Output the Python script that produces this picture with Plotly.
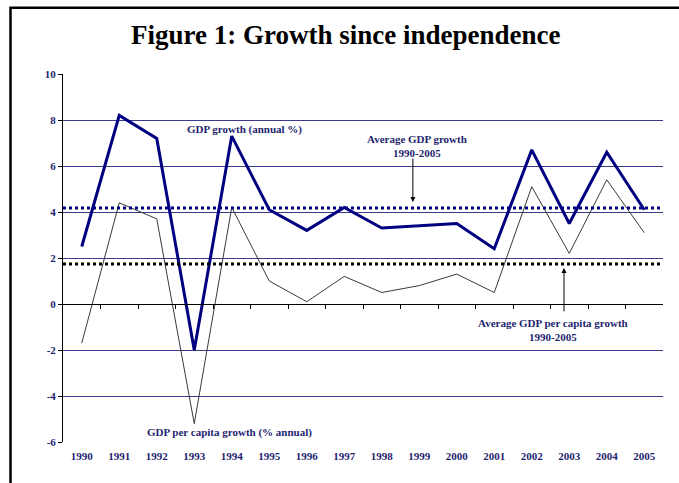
import plotly.graph_objects as go

years = list(range(1990, 2006))
gdp_growth = [2.5, 8.2, 7.2, -2.0, 7.3, 4.1, 3.2, 4.2, 3.3, 3.4, 3.5, 2.4, 6.7, 3.5, 6.6, 4.1]
gdp_pc_growth = [-1.7, 4.4, 3.7, -5.2, 4.2, 1.0, 0.1, 1.2, 0.5, 0.8, 1.3, 0.5, 5.1, 2.2, 5.4, 3.1]
avg_gdp_growth = 4.17
avg_gdp_pc_growth = 1.74
y_ticks = [-6, -4, -2, 0, 2, 4, 6, 8, 10]
y_tick_labels = ["-6", "-4", "-2", "0", "2", "4", "6", "8", "10"]

NAVY = "#000080"
TXT = "#1f1f70"
SERIF = "Liberation Serif"

x_lo = years[0] - 0.5
x_hi = years[-1] + 0.5
boundaries = [y + 0.5 for y in years[:-1]]

fig = go.Figure()
fig.add_trace(go.Scatter(x=years, y=gdp_pc_growth, mode="lines",
                         line=dict(color="#3a3a3a", width=1), showlegend=False))
fig.add_trace(go.Scatter(x=years, y=gdp_growth, mode="lines",
                         line=dict(color=NAVY, width=3), showlegend=False))
fig.add_trace(go.Scatter(x=[x_lo, x_hi], y=[avg_gdp_growth] * 2, mode="lines",
                         line=dict(color=NAVY, width=3, dash="dot"), showlegend=False,
                         xaxis="x2"))
fig.add_trace(go.Scatter(x=[x_lo, x_hi], y=[avg_gdp_pc_growth] * 2, mode="lines",
                         line=dict(color="#000000", width=3, dash="dot"), showlegend=False,
                         xaxis="x2"))

tickfont = dict(family=SERIF, size=11, color=TXT, weight="bold")
fig.update_layout(
    width=679, height=483,
    margin=dict(l=63, r=16, t=74, b=41),
    paper_bgcolor="white", plot_bgcolor="white",
    xaxis=dict(range=[x_lo, x_hi], tickvals=years, ticktext=[str(y) for y in years],
               showgrid=False, zeroline=False, showline=False, ticks="",
               tickfont=tickfont, ticklabelstandoff=6),
    xaxis2=dict(range=[x_lo, x_hi], overlaying="x", anchor="free",
                position=(0 - y_ticks[0]) / (y_ticks[-1] - y_ticks[0]),
                tickvals=boundaries, showticklabels=False, ticks="outside",
                ticklen=4, tickcolor="black", showline=True, linecolor="black",
                linewidth=1, showgrid=False, zeroline=False),
    yaxis=dict(range=[y_ticks[0], y_ticks[-1]], tickvals=y_ticks, ticktext=y_tick_labels,
               showgrid=True, gridcolor="#3a3a8c", gridwidth=1,
               zeroline=False, showline=True, linecolor="black", linewidth=1,
               ticks="outside", ticklen=4, tickcolor="black",
               tickfont=dict(family=SERIF, size=11, color=TXT, weight="bold")),
)

ann_font = dict(family=SERIF, size=11, color=TXT, weight="bold")
fig.add_annotation(text="Figure 1: Growth since independence", xref="paper", yref="paper",
                   x=0.471, y=1.106, showarrow=False, xanchor="center", yanchor="middle",
                   font=dict(family=SERIF, size=27, color="black", weight="bold"))
fig.add_annotation(text="GDP growth (annual %)", x=1994.33, y=7.57, showarrow=False,
                   font=ann_font)
fig.add_annotation(text="Average GDP growth<br>1990-2005", x=1998.94, y=6.87,
                   showarrow=False, font=ann_font)
fig.add_annotation(text="Average GDP per capita growth<br>1990-2005", x=2002.57, y=-1.13,
                   showarrow=False, font=ann_font)
fig.add_annotation(text="GDP per capita growth (% annual)", x=1993.95, y=-5.57,
                   showarrow=False, font=ann_font)
# arrows
fig.add_annotation(text="", x=1998.83, y=4.43, ax=0, ay=-45, showarrow=True,
                   arrowhead=2, arrowsize=1, arrowwidth=1, arrowcolor="black")
fig.add_annotation(text="", x=2002.86, y=1.57, ax=0, ay=45, showarrow=True,
                   arrowhead=2, arrowsize=1, arrowwidth=1, arrowcolor="black")

# outer frame
fig.add_shape(type="rect", xref="paper", yref="paper",
              x0=-0.0875, x1=1.1, y0=-0.2, y1=1.1797,
              line=dict(color="black", width=2.5), fillcolor="rgba(0,0,0,0)")

fig.write_html("out.html")
